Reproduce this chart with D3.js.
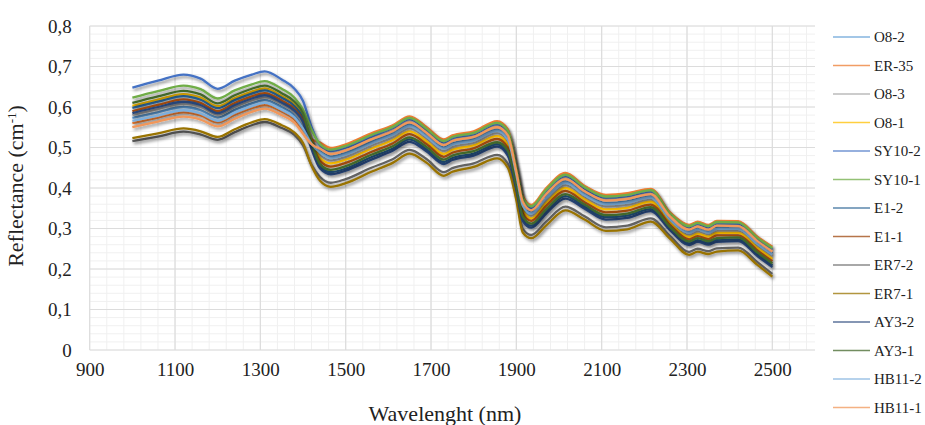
<!DOCTYPE html>
<html>
<head>
<meta charset="utf-8">
<script src="https://cdn.jsdelivr.net/npm/d3@7"></script>
<style>
  body { margin: 0; background: #fff; }
  svg text { font-family: "Liberation Serif", "Times New Roman", Tinos, "DejaVu Serif", serif !important; }
</style>
</head>
<body>
<script>
// wavelength grid (nm)
var wavelengths = [1000, 1060, 1120, 1160, 1200, 1240, 1280, 1310, 1350, 1380, 1400, 1420,
  1440, 1465, 1500, 1560, 1610, 1650, 1690, 1730, 1750, 1800, 1855, 1880, 1900, 1915, 1935,
  1970, 2015, 2060, 2110, 2160, 2215, 2260, 2305, 2325, 2350, 2370, 2420, 2465, 2500];

// reflectance per sample
var O8_2 = [.573, .587, .600, .592, .574, .593, .609, .617, .600, .580, .553, .514,
  .491, .478, .487, .514, .535, .557, .531, .500, .510, .521, .545, .524, .436, .360, .340,
  .380, .417, .387, .363, .367, .380, .326, .293, .301, .293, .302, .302, .265, .239];
var ER_35 = [.560, .574, .587, .579, .562, .581, .597, .605, .589, .569, .542, .520,
  .512, .499, .508, .535, .555, .577, .550, .520, .530, .540, .565, .545, .455, .380, .358,
  .400, .437, .405, .383, .387, .398, .340, .309, .317, .309, .319, .318, .280, .255];
var O8_3 = [.580, .595, .608, .600, .581, .600, .616, .624, .607, .587, .559, .512,
  .482, .468, .477, .505, .525, .548, .522, .491, .501, .512, .536, .515, .428, .351, .332,
  .371, .408, .378, .355, .359, .372, .319, .285, .293, .286, .295, .295, .258, .231];
var O8_1 = [.603, .618, .632, .623, .602, .622, .638, .646, .627, .606, .578, .517,
  .474, .461, .470, .497, .518, .540, .515, .484, .494, .505, .528, .507, .421, .344, .325,
  .363, .400, .372, .347, .351, .366, .314, .279, .287, .280, .289, .289, .252, .225];
var SY10_2 = [.648, .665, .680, .670, .645, .665, .680, .688, .668, .645, .615, .551,
  .505, .491, .500, .527, .548, .570, .543, .513, .523, .533, .558, .537, .448, .373, .351,
  .393, .430, .398, .376, .380, .392, .335, .303, .311, .303, .313, .312, .274, .249];
var SY10_1 = [.623, .639, .653, .644, .621, .641, .656, .664, .645, .623, .594, .543,
  .508, .495, .504, .531, .551, .573, .546, .516, .526, .536, .561, .541, .452, .376, .355,
  .396, .433, .402, .379, .383, .395, .337, .306, .314, .306, .316, .315, .277, .252];
var E1_2 = [.598, .613, .627, .618, .597, .617, .633, .641, .623, .602, .573, .504,
  .454, .439, .448, .476, .497, .520, .495, .464, .474, .485, .508, .486, .402, .324, .307,
  .343, .380, .354, .328, .332, .348, .300, .263, .271, .264, .272, .273, .237, .209];
var E1_1 = [.590, .605, .619, .610, .590, .610, .626, .634, .616, .595, .567, .508,
  .467, .453, .462, .489, .510, .533, .508, .477, .487, .498, .521, .499, .414, .337, .319,
  .356, .393, .365, .340, .344, .359, .309, .273, .281, .274, .283, .283, .246, .219];
var ER7_2 = [.516, .527, .539, .532, .519, .538, .555, .563, .548, .531, .505, .457,
  .427, .413, .422, .450, .471, .494, .471, .439, .449, .461, .482, .460, .379, .299, .284,
  .317, .354, .330, .303, .307, .325, .282, .242, .250, .244, .251, .253, .217, .188];
var ER7_1 = [.523, .535, .547, .540, .526, .545, .562, .570, .555, .537, .511, .455,
  .418, .403, .412, .440, .462, .485, .462, .430, .440, .452, .473, .450, .370, .290, .276,
  .308, .345, .322, .294, .298, .317, .275, .235, .243, .237, .243, .246, .210, .181];
var AY3_2 = [.585, .600, .613, .605, .585, .605, .621, .629, .611, .591, .563, .496,
  .448, .434, .443, .470, .492, .514, .490, .459, .469, .480, .502, .480, .397, .319, .302,
  .337, .374, .349, .322, .326, .343, .296, .259, .267, .260, .267, .269, .232, .205];
var AY3_1 = [.610, .626, .640, .631, .609, .629, .645, .653, .634, .613, .584, .512,
  .459, .445, .454, .482, .503, .525, .501, .470, .480, .491, .513, .492, .407, .330, .312,
  .348, .385, .359, .333, .337, .353, .304, .268, .276, .269, .276, .278, .241, .214];
var HB11_2 = [.566, .579, .592, .584, .566, .586, .602, .610, .593, .574, .546, .509,
  .488, .474, .483, .510, .531, .553, .527, .497, .507, .517, .541, .520, .433, .357, .337,
  .376, .413, .383, .360, .364, .377, .323, .290, .298, .290, .299, .299, .262, .236];
var HB11_1 = [.550, .564, .576, .569, .552, .571, .588, .596, .580, .561, .534, .508,
  .497, .484, .493, .520, .540, .562, .536, .506, .516, .526, .550, .530, .441, .366, .345,
  .385, .422, .392, .369, .373, .385, .330, .297, .305, .297, .307, .306, .269, .243];

var names = ["O8-2", "ER-35", "O8-3", "O8-1", "SY10-2", "SY10-1", "E1-2", "E1-1",
  "ER7-2", "ER7-1", "AY3-2", "AY3-1", "HB11-2", "HB11-1"];
var values = [O8_2, ER_35, O8_3, O8_1, SY10_2, SY10_1, E1_2, E1_1,
  ER7_2, ER7_1, AY3_2, AY3_1, HB11_2, HB11_1];
var colors = ["#5B9BD5", "#ED7D31", "#A5A5A5", "#FFC000", "#4472C4", "#70AD47", "#255E91",
  "#9E480E", "#636363", "#997300", "#264478", "#43682B", "#7CAFDD", "#F1975A"];

var xTicks = [900, 1100, 1300, 1500, 1700, 1900, 2100, 2300, 2500];
var yTicks = [0, 0.1, 0.2, 0.3, 0.4, 0.5, 0.6, 0.7, 0.8];

var svg = d3.select("body").append("svg").attr("width", 925).attr("height", 425);

var x = d3.scaleLinear().domain([900, 2600]).range([89.7, 815]);
var y = d3.scaleLinear().domain([0, 0.8]).range([350, 26]);

var defs = svg.append("defs");
var f = defs.append("filter").attr("id", "shadow")
      .attr("x", "-5%").attr("y", "-20%").attr("width", "110%").attr("height", "140%");
f.append("feDropShadow").attr("dx", 1.5).attr("dy", 2.2).attr("stdDeviation", 1.8)
      .attr("flood-color", "#000").attr("flood-opacity", 0.45);

// minor grid
var minorX = d3.range(900, 2601, 40);
var minorY = d3.range(0, 0.801, 0.02);
svg.append("g").selectAll("line.mx")
      .data(minorX)
      .enter().append("line")
      .attr("x1", function (d) { return x(d); })
      .attr("x2", function (d) { return x(d); })
      .attr("y1", y(0)).attr("y2", y(0.8))
      .attr("stroke", "#F0F0F0").attr("stroke-width", 1);
svg.append("g").selectAll("line.my")
      .data(minorY)
      .enter().append("line")
      .attr("y1", function (d) { return y(d); })
      .attr("y2", function (d) { return y(d); })
      .attr("x1", x(900)).attr("x2", x(2600))
      .attr("stroke", "#F0F0F0").attr("stroke-width", 1);

// major grid
svg.append("g").selectAll("line")
      .data(xTicks)
      .enter().append("line")
      .attr("x1", function (d) { return x(d); })
      .attr("x2", function (d) { return x(d); })
      .attr("y1", y(0)).attr("y2", y(0.8))
      .attr("stroke", "#DCDCDC").attr("stroke-width", 1.2);
svg.append("g").selectAll("line")
      .data(yTicks)
      .enter().append("line")
      .attr("y1", function (d) { return y(d); })
      .attr("y2", function (d) { return y(d); })
      .attr("x1", x(900)).attr("x2", x(2600))
      .attr("stroke", "#DCDCDC").attr("stroke-width", 1.2);

// axes (labels only)
svg.append("g").attr("transform", "translate(0," + y(0) + ")")
      .call(d3.axisBottom(x).tickValues(xTicks).tickSize(0).tickPadding(13).tickFormat(d3.format("d")));
svg.append("g").attr("transform", "translate(" + x(900) + ",0)")
      .call(d3.axisLeft(y).tickValues(yTicks).tickSize(0).tickPadding(18)
        .tickFormat(function (d) { return d === 0 ? "0" : d.toFixed(1).replace(".", ","); }));
svg.selectAll(".domain").remove();
svg.selectAll(".tick text")
      .attr("font-size", 19)
      .attr("fill", "#222");

// series lines
var line = d3.line()
      .x(function (d, i) { return x(wavelengths[i]); })
      .y(function (d) { return y(d); })
      .curve(d3.curveMonotoneX);

svg.append("g").selectAll("path")
      .data(values)
      .enter().append("path")
      .attr("d", function (d) { return line(d); })
      .attr("fill", "none")
      .attr("stroke", function (d, i) { return colors[i]; })
      .attr("stroke-width", 2.3)
      .attr("stroke-linejoin", "round")
      .attr("filter", "url(#shadow)");

// legend
var legend = svg.append("g").selectAll("g")
      .data(names)
      .enter().append("g")
      .attr("transform", function (d, i) { return "translate(833," + (37 + i * 28.5) + ")"; });
legend.append("line")
      .attr("x1", 0).attr("x2", 37)
      .attr("stroke", function (d, i) { return colors[i]; })
      .attr("stroke-width", 1.6)
      .attr("opacity", 0.75);
legend.append("text")
      .attr("x", 41).attr("y", 5)
      .attr("font-size", 15)
      .attr("fill", "#222")
      .text(function (d) { return d; });

// axis titles
svg.append("text")
      .attr("x", 445).attr("y", 421)
      .attr("text-anchor", "middle")
      .attr("font-size", 22)
      .attr("fill", "#222")
      .text("Wavelenght (nm)");

var yt = svg.append("text")
      .attr("transform", "translate(23,186) rotate(-90)")
      .attr("text-anchor", "middle")
      .attr("font-size", 22)
      .attr("fill", "#222");
yt.append("tspan").text("Reflectance (cm");
yt.append("tspan").attr("dy", -7).attr("font-size", 13).text("-1");
yt.append("tspan").attr("dy", 7).text(")");
</script>
</body>
</html>
